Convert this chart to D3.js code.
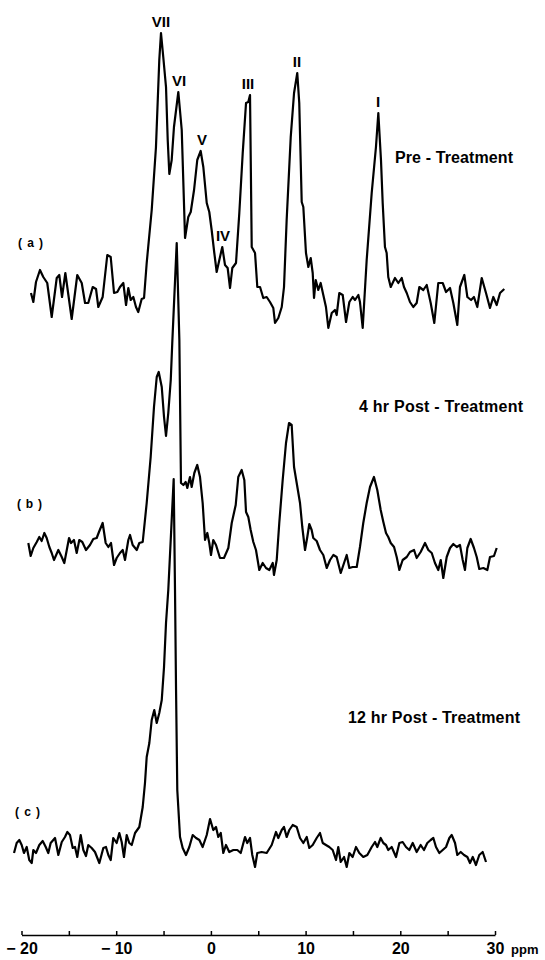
<!DOCTYPE html>
<html>
<head>
<meta charset="utf-8">
<script src="https://cdn.jsdelivr.net/npm/d3@7"></script>
<style>
  body { margin: 0; background: #fff; }
  .trace { fill: none; stroke: #000; stroke-width: 2.2; stroke-linejoin: round; }
  text { font-family: "Liberation Sans", Arial, sans-serif; font-weight: bold; fill: #000; }
  .axis path, .axis line { stroke: #000; stroke-width: 1.5; }
  .axis text { font-size: 16px; }
</style>
</head>
<body>
<script>
// spectra: [ppm, intensity]
var traceA = [[-19.00,7],[-18.75,-2],[-18.47,18],[-18.05,30],[-17.70,23],[-17.28,17],[-16.81,-17],[-16.28,22],[-16.01,25],[-15.72,3],[-15.37,27],[-14.70,-19],[-14.11,25],[-13.64,17],[-13.29,-3],[-12.95,-3],[-12.48,13],[-12.13,11],[-11.89,-7],[-11.43,3],[-10.94,45],[-10.58,43],[-10.23,7],[-9.88,8],[-9.60,13],[-9.25,17],[-8.96,-5],[-8.72,12],[-8.47,0],[-8.19,3],[-7.91,-7],[-7.67,-12],[-7.31,1],[-7.06,2],[-6.78,37],[-6.25,90],[-5.80,153],[-5.45,240],[-5.27,267],[-5.03,243],[-4.74,213],[-4.56,160],[-4.39,126],[-4.14,140],[-3.90,173],[-3.44,208],[-3.08,170],[-2.73,62],[-2.39,83],[-2.13,88],[-1.78,110],[-1.44,140],[-1.08,149],[-0.80,133],[-0.44,97],[-0.17,88],[0.08,70],[0.36,47],[0.61,28],[0.89,40],[1.20,53],[1.49,35],[1.77,32],[2.02,12],[2.26,32],[2.65,37],[3.00,87],[3.36,147],[3.71,197],[3.95,198],[4.13,205],[4.31,53],[4.66,47],[4.90,13],[5.19,13],[5.53,2],[5.89,3],[6.24,-2],[6.59,-8],[6.77,-23],[7.12,-18],[7.48,-7],[7.72,13],[8.00,80],[8.43,163],[8.78,207],[9.12,227],[9.33,197],[9.59,98],[9.76,93],[10.04,47],[10.29,33],[10.54,42],[10.75,27],[10.89,2],[11.07,20],[11.34,10],[11.59,17],[11.87,5],[12.15,-7],[12.40,-28],[12.76,-13],[13.10,-10],[13.28,-15],[13.56,7],[13.92,5],[14.27,-22],[14.62,-2],[14.97,3],[15.22,0],[15.57,5],[15.74,-2],[16.03,-28],[16.45,40],[16.98,107],[17.43,153],[17.68,187],[17.96,140],[18.14,97],[18.38,53],[18.56,47],[18.73,23],[18.99,13],[19.44,22],[19.79,17],[20.15,22],[20.39,13],[20.68,7],[21.02,-2],[21.37,-7],[21.73,-3],[22.01,13],[22.43,10],[22.79,15],[23.21,-3],[23.59,-23],[24.01,17],[24.48,17],[24.83,8],[25.25,12],[25.60,-3],[26.02,-25],[26.30,13],[26.76,25],[27.08,3],[27.47,0],[27.78,3],[28.13,-7],[28.60,22],[29.05,7],[29.47,-8],[29.82,3],[30.18,-5],[30.53,7],[30.98,11]];

var traceB = [[-19.28,7],[-19.03,-6],[-18.75,2],[-18.39,8],[-18.12,13],[-17.87,9],[-17.59,17],[-17.34,12],[-17.06,3],[-16.81,-3],[-16.57,-10],[-16.11,0],[-15.75,-7],[-15.48,-13],[-14.98,12],[-14.77,7],[-14.46,10],[-14.17,-3],[-13.90,10],[-13.58,8],[-13.19,0],[-12.77,5],[-12.42,11],[-12.06,12],[-11.82,18],[-11.43,27],[-11.11,7],[-10.83,3],[-10.55,7],[-10.23,-15],[-9.95,-8],[-9.60,-3],[-9.31,0],[-9.07,-10],[-8.72,10],[-8.54,15],[-8.26,5],[-7.83,0],[-7.56,7],[-7.20,8],[-6.78,47],[-6.36,93],[-6.01,143],[-5.72,173],[-5.51,178],[-5.19,163],[-4.95,133],[-4.74,114],[-4.50,137],[-4.24,170],[-4.08,207],[-3.61,307],[-3.33,210],[-3.16,67],[-2.91,65],[-2.66,68],[-2.49,62],[-2.21,73],[-2.03,63],[-1.75,77],[-1.44,85],[-1.15,73],[-0.87,47],[-0.62,10],[-0.38,17],[-0.17,7],[0.01,-5],[0.25,10],[0.54,5],[0.96,-8],[1.38,-8],[1.84,2],[2.20,27],[2.62,45],[2.89,73],[3.25,80],[3.53,70],[3.71,38],[3.95,33],[4.20,20],[4.48,8],[4.76,0],[5.11,-20],[5.47,-13],[5.82,-18],[6.17,-20],[6.53,-13],[6.66,-25],[6.95,-10],[7.22,27],[7.58,70],[7.93,107],[8.25,127],[8.53,125],[8.78,83],[9.06,67],[9.41,47],[9.65,23],[9.94,0],[10.18,13],[10.39,26],[10.64,20],[10.81,12],[11.17,9],[11.52,0],[11.87,-5],[12.23,-18],[12.58,-10],[12.93,-5],[13.28,-7],[13.71,-23],[14.06,-13],[14.34,-5],[14.62,-18],[14.97,-17],[15.40,-17],[15.74,3],[16.09,27],[16.45,47],[16.80,63],[17.22,73],[17.57,60],[17.93,40],[18.21,28],[18.49,17],[18.73,13],[18.99,7],[19.34,3],[19.62,-7],[19.90,-20],[20.25,-10],[20.68,-7],[21.02,-2],[21.45,0],[21.73,-8],[22.15,-2],[22.61,7],[22.96,0],[23.32,-3],[23.66,-13],[24.01,-20],[24.27,-10],[24.54,-28],[24.90,-7],[25.25,2],[25.60,6],[25.96,3],[26.30,5],[26.59,-10],[26.83,-20],[27.08,2],[27.43,11],[27.78,2],[28.07,-7],[28.34,-19],[28.77,-18],[29.19,-20],[29.47,-7],[29.89,-6],[30.18,2]];

var traceC = [[-20.79,-3],[-20.51,7],[-20.23,10],[-19.98,5],[-19.74,-3],[-19.45,3],[-19.18,-10],[-18.92,-13],[-18.75,0],[-18.47,-3],[-18.12,5],[-17.76,9],[-17.44,3],[-17.17,-3],[-16.92,7],[-16.46,12],[-16.11,-5],[-15.75,8],[-15.41,13],[-15.16,18],[-14.88,15],[-14.59,2],[-14.35,3],[-14.11,-7],[-13.75,15],[-13.47,0],[-13.19,-6],[-12.95,5],[-12.59,2],[-12.24,-2],[-11.78,-13],[-11.36,2],[-11.08,3],[-10.83,-5],[-10.58,-10],[-10.31,12],[-9.95,7],[-9.67,17],[-9.42,8],[-9.18,-7],[-8.89,15],[-8.62,7],[-8.36,5],[-8.01,17],[-7.56,23],[-7.20,43],[-6.96,67],[-6.78,93],[-6.50,107],[-6.25,130],[-5.98,140],[-5.72,127],[-5.45,137],[-5.19,150],[-4.95,183],[-4.74,227],[-4.50,260],[-3.93,371],[-3.79,260],[-3.68,160],[-3.55,60],[-3.26,13],[-2.98,2],[-2.63,-5],[-2.28,3],[-1.92,15],[-1.57,12],[-1.22,10],[-0.87,3],[-0.44,15],[-0.09,31],[0.25,20],[0.54,23],[0.78,13],[1.04,17],[1.31,-3],[1.59,5],[1.94,-2],[2.37,0],[2.79,0],[3.15,-3],[3.60,13],[3.84,7],[4.13,12],[4.37,-5],[4.66,-17],[4.90,-3],[5.36,-2],[5.89,-3],[6.42,5],[6.87,18],[7.12,12],[7.48,20],[7.72,23],[8.00,13],[8.28,20],[8.64,25],[9.06,23],[9.41,12],[9.76,7],[10.12,13],[10.39,2],[10.75,5],[11.17,12],[11.52,17],[11.81,7],[12.15,5],[12.50,3],[12.86,0],[13.21,-10],[13.45,3],[13.71,-12],[14.06,-7],[14.34,-17],[14.62,-3],[14.97,-7],[15.32,3],[15.67,-3],[16.09,-7],[16.52,-5],[16.98,3],[17.33,8],[17.57,3],[17.93,12],[18.21,7],[18.49,5],[18.73,0],[19.09,3],[19.55,-7],[19.90,7],[20.25,8],[20.60,3],[20.95,0],[21.31,7],[21.73,-2],[22.15,5],[22.50,0],[22.85,7],[23.21,10],[23.49,12],[23.77,3],[24.12,-3],[24.48,0],[24.83,3],[25.18,12],[25.43,15],[25.78,7],[26.02,-5],[26.38,-2],[26.73,-5],[27.08,-7],[27.36,-13],[27.65,-7],[27.99,-15],[28.34,-5],[28.70,-2],[29.05,-12]];

var peakNames = ["VII", "VI", "V", "IV", "III", "II", "I"];
var peakPpm = [-5.27, -3.37, -0.94, 1.28, 3.92, 9.09, 17.65];

var tickValues = [-20, -15, -10, -5, 0, 5, 10, 15, 20, 25, 30];
var tickLabels = ["\u2212 20", "", "\u2212 10", "", "0", "", "10", "", "20", "", "30"];

var W = 545, H = 960;

var svg = d3.select("body").append("svg")
  .attr("width", W)
  .attr("height", H);

var x = d3.scaleLinear().domain([-20, 30]).range([21.5, 495]);

// one vertical scale per stacked spectrum
function yFor(base) {
  return d3.scaleLinear().domain([0, 100]).range([base, base - 100]);
}
var yA = yFor(300), yB = yFor(550), yC = yFor(850);

function draw(data, y) {
  svg.append("path")
    .datum(data)
    .attr("class", "trace")
    .attr("d", d3.line().x(d => x(d[0])).y(d => y(d[1])));
}
draw(traceA, yA);
draw(traceB, yB);
draw(traceC, yC);

// peak labels over trace (a)
peakNames.forEach((name, i) => {
  var near = traceA.filter(d => Math.abs(d[0] - peakPpm[i]) < 0.35);
  var top = d3.max(near, d => d[1]);
  svg.append("text")
    .attr("x", x(peakPpm[i]))
    .attr("y", yA(top) - 6)
    .attr("text-anchor", "middle")
    .style("font-size", "15px")
    .text(name);
});

// trace letters and titles
function label(txt, px, py, size, len) {
  var t = svg.append("text")
    .attr("x", px).attr("y", py)
    .style("font-size", size + "px")
    .text(txt);
  if (len) t.attr("textLength", len).attr("lengthAdjust", "spacing");
}
label("( a )", 18, 247, 12, 25);
label("( b )", 17, 508, 12, 25);
label("( c )", 15, 816, 12, 25);
label("Pre - Treatment", 395, 163, 16, 118);
label("4 hr  Post - Treatment", 359, 412, 16, 164);
label("12 hr  Post - Treatment", 348, 723, 16, 172);

// x axis
var axis = svg.append("g")
  .attr("class", "axis")
  .attr("transform", "translate(0,935)")
  .call(d3.axisBottom(x)
    .tickValues(tickValues)
    .tickSizeInner(-4)
    .tickSizeOuter(0)
    .tickPadding(8)
    .tickFormat((d, i) => tickLabels[i]));
axis.select(".domain").attr("stroke-width", 1.5);

svg.append("text")
  .attr("x", x(30) + 16)
  .attr("y", 954)
  .style("font-size", "13px")
  .text("ppm");
</script>
</body>
</html>
